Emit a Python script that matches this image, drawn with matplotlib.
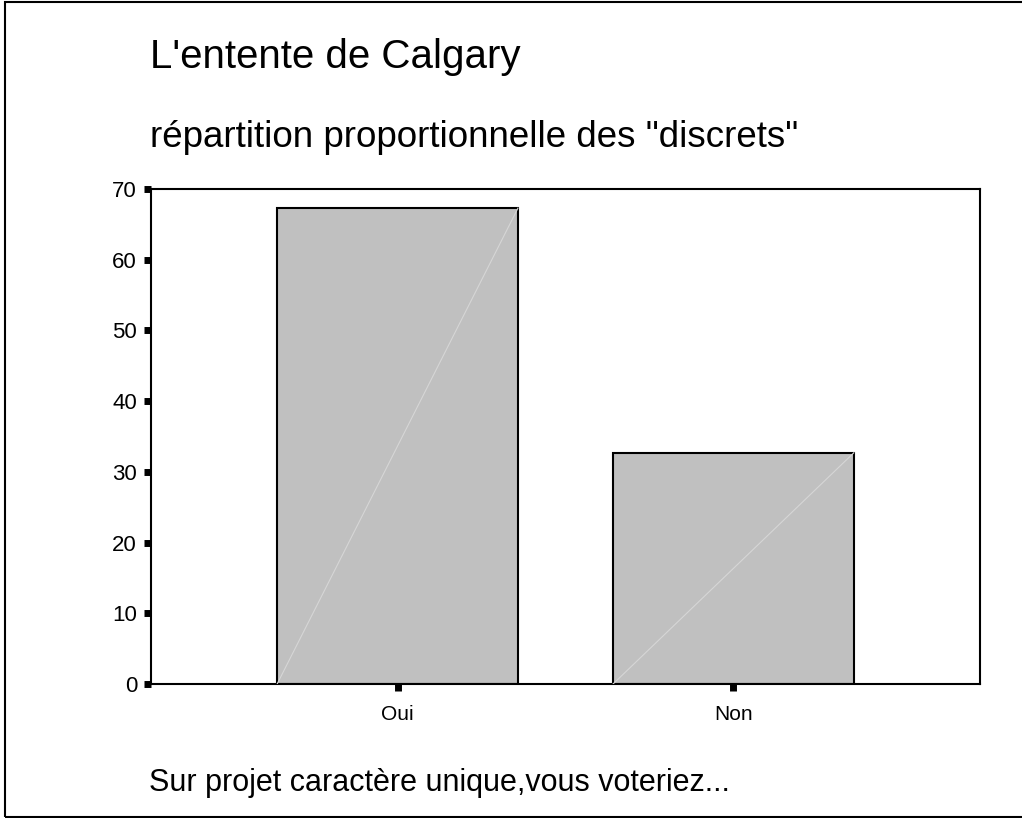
import matplotlib
matplotlib.use('Agg')
import matplotlib.pyplot as plt
from matplotlib.patches import Rectangle

plt.rcParams['font.family'] = ['Liberation Sans', 'DejaVu Sans']

# donnees
categories = ['Oui', 'Non']
pourcentages = [67.3, 32.7]
yticks = [0, 10, 20, 30, 40, 50, 60, 70]

W, H = 1022, 818
fig = plt.figure(figsize=(W / 100, H / 100), dpi=100)
ax = fig.add_axes([151 / W, 1 - 684 / H, 829 / W, 495 / H])

x = list(range(len(categories)))
largeur = 0.717
ax.bar(x, pourcentages, width=largeur, color='#c0c0c0', edgecolor='black', linewidth=1.5, zorder=2)

# petite diagonale claire dans chaque barre
for xi, v in zip(x, pourcentages):
    ax.plot([xi - largeur / 2, xi + largeur / 2], [0, v], color='#d6d6d6', linewidth=0.8, zorder=3)

ax.set_xlim(-0.734, 1.734)
ax.set_ylim(0, 70)
ax.set_xticks(x)
ax.set_xticklabels(categories, fontsize=15)
ax.set_yticks(yticks)
ax.set_yticklabels([str(t) for t in yticks], fontsize=16)
ax.tick_params(axis='both', direction='out', length=5, width=5, color='black')
ax.tick_params(axis='x', pad=10)
ax.tick_params(axis='y', pad=5)

for s in ax.spines.values():
    s.set_linewidth(1.5)

# textes
fig.text(150 / W, 1 - 68.5 / H, "L'entente de Calgary", fontsize=29, va='baseline', ha='left')
fig.text(150 / W, 1 - 147 / H, 'répartition proportionnelle des "discrets"', fontsize=26.5, va='baseline', ha='left')
fig.text(149 / W, 1 - 791.5 / H, 'Sur projet caractère unique,vous voteriez...', fontsize=22, va='baseline', ha='left')

# cadre autour de la figure (le bord droit sort de l'image)
fig.patches.append(Rectangle((5 / W, 1 / H), 1030 / W, 815 / H, transform=fig.transFigure,
                             fill=False, edgecolor='black', linewidth=1.5))

fig.savefig('out.png', dpi=100)
